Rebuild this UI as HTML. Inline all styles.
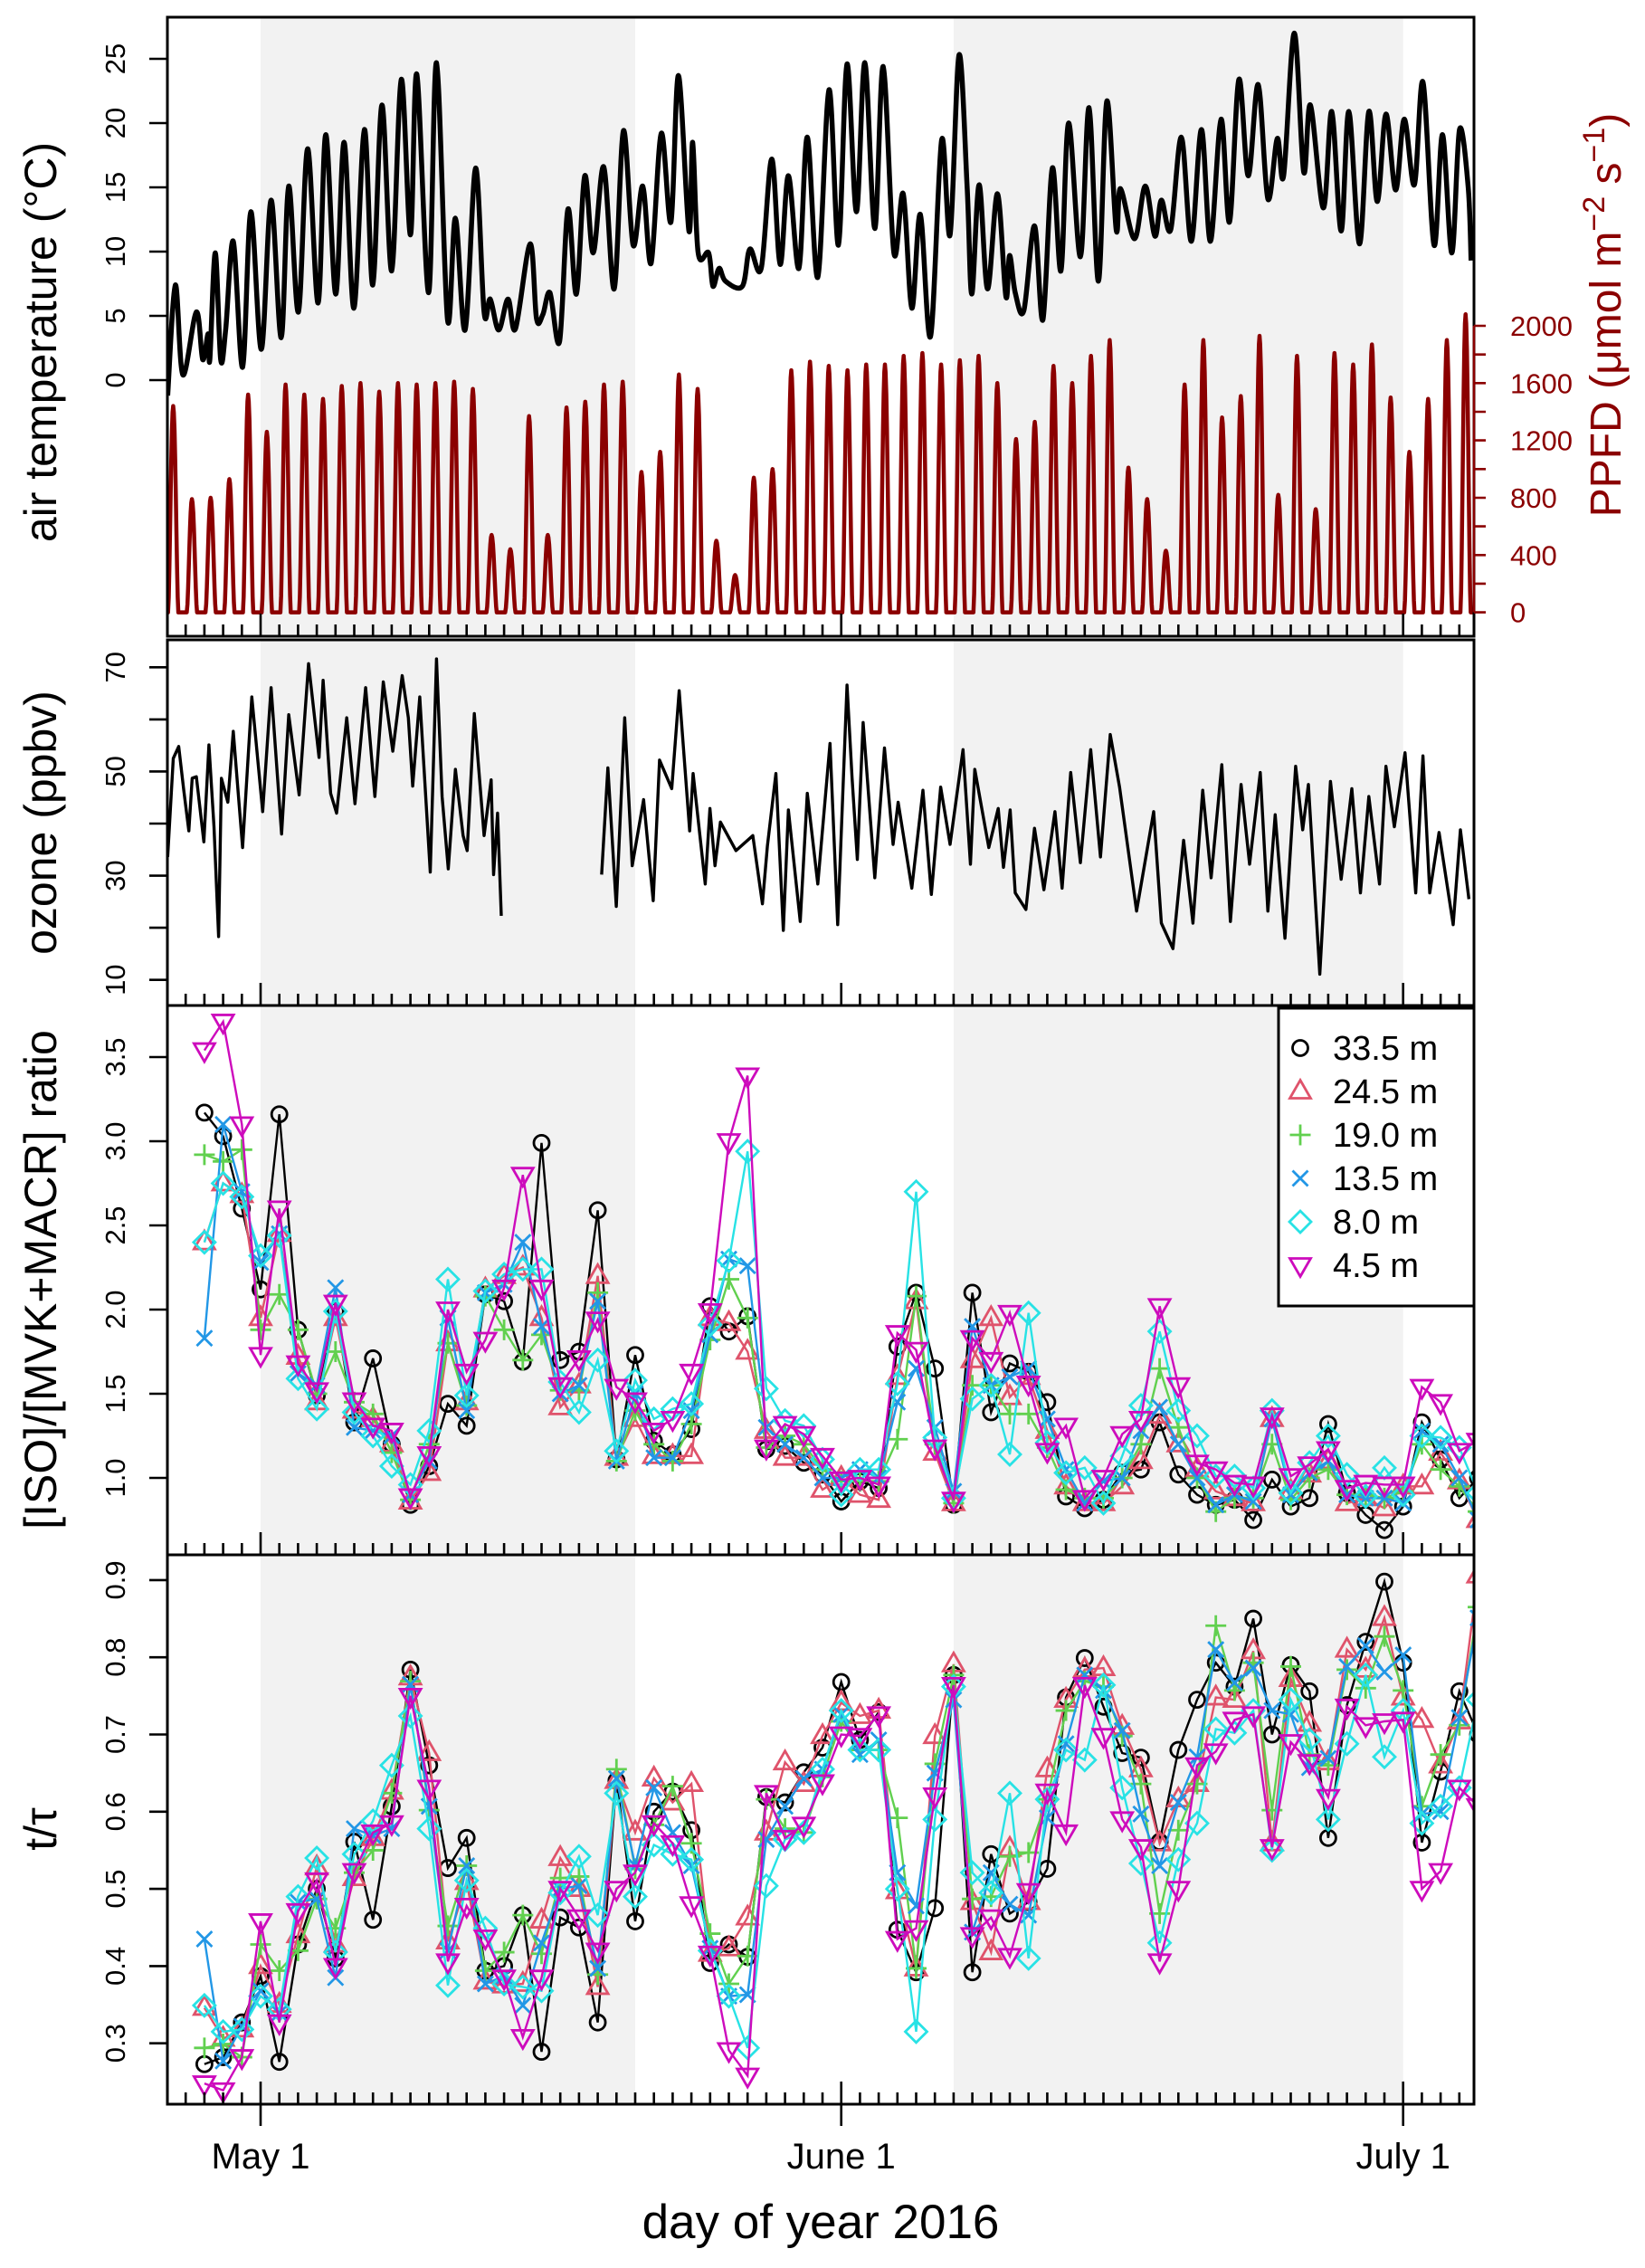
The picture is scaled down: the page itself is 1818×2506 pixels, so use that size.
<!DOCTYPE html>
<html><head><meta charset="utf-8"><title>Chart</title>
<style>html,body{margin:0;padding:0;background:#fff}svg{display:block}text{font-family:"Liberation Sans",Arial,sans-serif}</style>
</head><body>
<svg id="chart" xmlns="http://www.w3.org/2000/svg" width="1818" height="2506" viewBox="0 0 1818 2506"></svg>
<script>
// ---------- data ----------
const tempDay=[-4.96,-4.55,-4.15,-3.43,-3.09,-2.80,-2.71,-2.42,-2.13,-1.86,-1.46,-0.96,-0.52,0.04,0.56,1.10,1.50,2.02,2.51,3.07,3.48,4.01,4.46,4.98,5.54,5.99,6.48,7.00,7.51,8.00,8.34,8.97,9.39,9.98,10.40,10.92,11.48,11.93,12.26,12.71,13.21,13.61,14.39,14.73,15.07,15.45,15.96,16.41,16.86,17.31,17.76,18.32,18.88,19.37,19.89,20.40,20.85,21.39,21.91,22.31,22.87,23.07,23.36,23.92,24.15,24.48,24.82,25.72,26.12,26.73,27.29,27.74,28.18,28.74,29.19,29.75,30.35,30.85,31.31,31.81,32.26,32.79,33.24,33.81,34.31,34.77,35.22,35.77,36.36,36.81,37.29,37.72,37.97,38.36,38.81,39.34,39.79,39.99,40.29,40.75,41.32,41.77,42.27,42.73,43.14,43.77,44.23,44.73,45.18,45.68,45.91,46.66,47.23,47.75,48.09,48.59,49.16,49.69,50.23,50.71,51.28,51.73,52.23,52.73,53.26,53.78,54.28,54.62,55.19,55.69,56.05,56.74,57.19,57.69,58.10,58.67,59.17,59.62,60.08,60.60,61.06,61.60,62.06,62.65,63.10,63.60,64.01,64.47,64.63];
const tempVal=[-1.2,7.4,0.4,5.3,1.6,3.6,1.6,9.9,1.6,4.0,10.8,1.0,13.1,2.4,14.0,3.3,15.1,5.3,18.0,6.0,19.1,6.7,18.5,5.6,19.5,7.4,21.4,8.5,23.4,11.3,23.8,6.8,24.7,4.7,12.6,3.9,16.5,5.3,6.3,3.9,6.3,4.0,10.6,4.8,5.1,6.8,3.0,13.3,6.7,15.9,9.9,16.6,7.1,19.4,10.5,15.1,9.1,19.2,12.3,23.7,11.6,18.5,9.9,9.9,7.3,8.7,7.7,7.3,10.2,8.7,17.2,9.0,15.9,8.7,18.9,8.0,22.6,10.5,24.6,13.1,24.7,11.8,24.4,9.9,14.5,5.6,12.9,3.4,18.7,11.3,25.3,15.1,6.7,15.2,7.1,14.5,6.5,9.7,6.8,5.4,12.0,4.7,16.5,8.5,20.0,9.6,21.2,7.7,21.7,11.7,14.9,11.0,15.1,11.2,14.0,11.7,18.9,10.8,19.5,10.8,20.3,12.3,23.4,15.9,23.0,14.1,18.8,15.9,27.0,16.2,21.4,13.4,20.9,11.6,20.9,10.6,20.9,13.9,20.7,14.8,20.3,15.2,23.2,10.5,19.1,9.9,19.5,15.1,9.3];
const ppfdFirstDay=-5;
const ppfdPeak=[1440,790,800,930,1520,1260,1590,1520,1490,1580,1600,1540,1600,1590,1600,1610,1560,540,440,1370,540,1430,1470,1590,1610,980,1120,1660,1560,500,260,940,1000,1690,1750,1720,1690,1730,1730,1790,1810,1730,1760,1790,1600,1210,1330,1720,1600,1790,1900,1010,790,430,1590,1900,1360,1510,1930,820,1790,720,1810,1730,1870,1500,1120,1490,1900,2080];
const ozDayA=[-4.96,-4.66,-4.37,-4.10,-3.83,-3.65,-3.43,-3.03,-2.76,-2.49,-2.24,-2.09,-1.75,-1.46,-0.96,-0.47,0.11,0.56,1.12,1.50,2.06,2.56,3.12,3.34,3.74,4.06,4.60,5.04,5.61,6.10,6.55,7.06,7.56,7.89,8.12,8.50,9.06,9.39,9.69,10.02,10.40,10.81,11.03,11.41,11.93,12.31,12.44,12.65,12.85];
const ozValA=[33.6,52.5,54.8,46.4,38.6,48.7,49,36.5,55.1,39.4,18.3,48.7,44.1,57.7,35.4,64.3,42.3,66.1,38.0,60.9,45.5,70.7,52.7,67.5,45.8,42.0,60.3,43.8,66.1,45.2,67.2,53.9,68.4,60.3,47.2,64.3,30.7,71.6,45.2,31.3,50.4,37.7,34.8,61.1,37.7,48.4,30.2,42.0,22.3];
const ozDayB=[18.21,18.54,18.99,19.44,19.84,20.45,20.96,21.30,21.95,22.35,22.91,23.09,23.74,23.99,24.26,24.55,25.38,26.28,26.79,27.06,27.51,27.91,28.18,28.81,29.19,29.75,30.40,30.81,31.31,31.58,31.86,32.17,32.79,33.31,33.77,34.04,34.77,35.36,35.81,36.31,36.81,37.50,37.90,38.13,38.88,39.38,39.66,40.02,40.29,40.86,41.32,41.82,42.41,42.79,43.25,43.77,44.32,44.84,45.36,45.86,46.77,47.68,48.09,48.71,49.28,49.78,50.30,50.75,51.32,51.78,52.35,52.80,53.37,53.78,54.17,54.69,55.26,55.64,55.94,56.55,57.12,57.69,58.26,58.72,59.17,59.74,60.08,60.53,61.10,61.67,62.06,62.42,62.92,63.67,64.06,64.51];
const ozValB=[30.2,50.7,24.1,60.3,31.9,44.6,25.2,52.2,46.7,65.5,38.6,49.6,28.4,42.9,31.9,40.3,34.8,37.7,24.6,35.7,49.6,19.5,42.6,21.2,45.8,28.4,55.4,20.6,66.6,48.7,33.1,59.4,29.6,54.5,36.0,44.1,27.6,46.4,26.4,47.0,36.0,54.2,32.2,50.4,35.4,42.9,31.6,42.6,26.7,23.5,39.1,27.3,42.3,27.6,49.8,32.5,54.2,33.6,57.1,47.0,23.2,42.3,20.9,16.0,36.8,20.9,46.4,29.6,51.3,21.2,47.5,32.2,49.8,23.2,41.7,18.0,51.0,38.8,47.5,11.1,48.1,29.3,46.7,26.7,45.2,28.4,51.0,39.4,53.6,26.7,53.0,26.7,38.3,20.6,38.8,25.5];

const sampleFirstDay=-3;
const heights=["33.5 m","24.5 m","19.0 m","13.5 m","8.0 m","4.5 m"];
const ratio335=[3.17,3.03,2.60,2.12,3.16,1.88,1.49,1.99,1.33,1.71,1.20,0.84,1.07,1.44,1.31,2.09,2.05,1.69,2.99,1.70,1.75,2.59,1.11,1.73,1.22,1.14,1.29,2.02,1.87,1.96,1.17,1.19,1.09,1.02,0.86,0.98,0.94,1.78,2.10,1.65,0.84,2.10,1.39,1.68,1.63,1.45,0.89,0.82,0.87,1.03,1.05,1.33,1.02,0.90,0.84,0.87,0.75,0.99,0.83,0.88,1.32,0.91,0.78,0.69,0.83,1.33,1.11,0.88,1.0];
const ratio245=[2.40,2.75,2.68,1.95,2.45,1.72,1.45,1.95,1.40,1.35,1.20,0.86,1.03,1.80,1.45,2.12,2.20,2.25,1.95,1.42,1.55,2.20,1.12,1.35,1.13,1.13,1.13,1.95,1.92,1.75,1.28,1.12,1.12,0.93,1.0,0.9,0.87,1.6,2.05,1.15,0.85,1.7,1.95,1.48,1.6,1.28,0.95,0.85,0.85,0.95,1.1,1.37,1.2,1.05,0.92,0.88,0.85,1.35,0.92,1.02,1.1,0.85,0.88,0.82,0.95,0.95,1.15,0.98,0.75];
const ratio190=[2.92,2.88,2.95,1.88,2.09,1.88,1.50,1.75,1.45,1.38,1.15,0.87,1.2,1.8,1.43,2.08,1.88,1.7,1.85,1.52,1.52,2.1,1.10,1.4,1.2,1.1,1.32,1.82,2.18,1.95,1.18,1.25,1.2,1.05,0.98,0.98,0.98,1.23,2.08,1.2,0.85,1.55,1.55,1.38,1.38,1.18,0.93,0.88,0.88,1.0,1.2,1.65,1.3,1.0,0.80,0.88,0.88,1.2,0.87,1.0,1.05,0.9,0.9,0.88,0.92,1.2,1.05,0.95,0.8];
const ratio135=[1.83,3.1,2.7,2.28,2.45,1.62,1.55,2.13,1.30,1.28,1.25,0.9,1.1,1.95,1.4,2.1,2.15,2.4,1.9,1.5,1.55,2.05,1.1,1.5,1.12,1.12,1.4,1.85,2.3,2.26,1.3,1.2,1.12,1.0,1.0,1.05,1.0,1.45,1.65,1.3,0.92,1.9,1.55,1.6,1.65,1.35,1.05,0.85,0.98,1.0,1.28,1.42,1.2,1.0,0.84,0.90,0.86,1.35,0.9,1.03,1.1,0.9,0.88,0.88,0.85,1.28,1.2,1.0,0.75];
const ratio080=[2.40,2.75,2.67,2.32,2.44,1.59,1.41,1.99,1.39,1.25,1.07,0.96,1.28,2.18,1.49,2.11,2.21,2.24,2.24,1.57,1.39,1.70,1.16,1.58,1.35,1.41,1.44,1.91,2.29,2.94,1.53,1.34,1.31,1.11,0.90,1.05,1.05,1.56,2.70,1.24,0.88,1.47,1.55,1.14,1.98,1.21,1.03,1.06,0.85,1.13,1.43,1.87,1.40,1.25,1.01,1.01,0.94,1.40,0.91,1.09,1.25,1.02,0.89,1.06,0.90,1.25,1.24,1.18,0.91];
const ratio045=[3.54,3.71,3.10,1.73,2.60,1.68,1.52,2.04,1.46,1.31,1.28,0.89,1.14,2.0,1.63,1.82,2.13,2.80,2.13,1.55,1.71,1.94,1.54,1.46,1.28,1.35,1.63,1.99,3.0,3.39,1.18,1.32,1.26,1.13,0.99,1.0,0.96,1.86,1.76,1.18,0.87,1.83,1.70,1.98,1.56,1.16,1.31,0.88,1.0,1.26,1.35,2.02,1.55,1.09,1.05,0.97,0.96,1.37,1.01,1.08,1.17,0.94,0.97,0.96,0.96,1.54,1.45,1.16,1.22];
const tau335=[0.273,0.282,0.327,0.387,0.276,0.428,0.50,0.41,0.561,0.46,0.607,0.784,0.66,0.527,0.566,0.394,0.40,0.466,0.289,0.463,0.45,0.327,0.64,0.458,0.60,0.626,0.576,0.404,0.428,0.412,0.619,0.612,0.651,0.683,0.768,0.693,0.729,0.447,0.392,0.475,0.777,0.392,0.545,0.468,0.483,0.526,0.748,0.799,0.736,0.676,0.67,0.561,0.68,0.745,0.793,0.762,0.85,0.70,0.79,0.756,0.566,0.738,0.82,0.898,0.793,0.56,0.652,0.756,0.70];
const tau245=[.346,.306,.318,.40,.35,.44,.528,.428,.514,.566,.626,.774,.676,.432,.509,.38,.375,.377,.459,.54,.50,.373,.64,.573,.643,.612,.636,.416,.423,.463,.573,.664,.636,.698,.741,.724,.731,.497,.397,.698,.791,.483,.418,.552,.483,.655,.745,.784,.786,.71,.655,.559,.616,.636,.748,.745,.808,.559,.772,.714,.664,.81,.784,.851,.748,.719,.66,.717,.906];
const tau190=[.294,.299,.282,.428,.394,.42,.487,.449,.521,.55,.624,.769,.602,.452,.53,.394,.418,.466,.416,.514,.516,.389,.655,.526,.583,.633,.559,.442,.377,.413,.616,.578,.573,.645,.717,.68,.68,.592,.397,.662,.777,.487,.49,.542,.547,.616,.731,.769,.762,.698,.636,.468,.576,.636,.841,.757,.793,.602,.788,.674,.66,.784,.76,.827,.757,.607,.674,.712,.865];
const tau135=[.435,.277,.322,.368,.339,.483,.487,.385,.578,.569,.578,.765,.607,.42,.53,.377,.387,.349,.43,.50,.504,.397,.643,.53,.631,.573,.53,.423,.361,.363,.564,.607,.643,.655,.726,.674,.693,.521,.478,.65,.745,.444,.521,.48,.466,.592,.688,.777,.757,.705,.597,.53,.612,.671,.81,.767,.786,.731,.726,.657,.669,.788,.815,.781,.803,.597,.60,.722,.851];
const tau080=[.349,.315,.318,.361,.344,.49,.54,.418,.545,.588,.66,.724,.578,.375,.511,.449,.377,.373,.368,.495,.542,.466,.624,.49,.557,.545,.538,.42,.361,.294,.504,.564,.573,.655,.731,.68,.68,.50,.315,.59,.762,.521,.495,.624,.41,.616,.68,.667,.764,.631,.533,.43,.538,.585,.707,.702,.731,.55,.745,.693,.59,.688,.777,.671,.731,.585,.607,.631,.745];
const tau045=[.248,.239,.282,.458,.327,.471,.511,.40,.523,.573,.585,.75,.631,.406,.478,.437,.385,.308,.385,.50,.463,.42,.50,.521,.585,.559,.48,.416,.291,.258,.624,.566,.583,.638,.70,.698,.726,.435,.449,.621,.764,.44,.463,.413,.497,.626,.573,.764,.698,.59,.554,.406,.50,.66,.678,.719,.726,.554,.69,.664,.619,.736,.712,.717,.719,.50,.523,.631,.607];

const tempTicks=[0,5,10,15,20,25];
const ppfdTicks=[0,200,400,600,800,1000,1200,1400,1600,1800,2000];
const ppfdLabels=[0,400,800,1200,1600,2000];
const ozTicks=[10,20,30,40,50,60,70];
const ozLabels=[10,30,50,70];
const ratioTicks=[1.0,1.5,2.0,2.5,3.0,3.5];
const tauTicks=[0.3,0.4,0.5,0.6,0.7,0.8,0.9];
const monthDays=[0,31,61];
const monthLabels=["May 1","June 1","July 1"];
const shadeStart=[0,37];
const shadeEnd=[20,61];

// ---------- layout ----------
const NS="http://www.w3.org/2000/svg";
const svg=document.getElementById('chart');
const L=185,R=1629;
const P1={t:19,b:703},P2={t:707,b:1111},P3={t:1111,b:1718},P4={t:1718,b:2325};
const X=d=>288+d*20.7;
const yT=v=>420-v*14.2;
const yP=v=>676.6-v*0.1583;
const yO=v=>737.3+(70-v)*5.757;
const yR=v=>1633-(v-1)*186;
const yTau=v=>2257.7-(v-0.3)*853;
const colors=["#000000","#DF536B","#61D04F","#2297E6","#28E2E5","#CD0BBC"];
const markers=["circle","tri-up","plus","cross","diamond","tri-down"];

function el(tag,attrs,parent){const e=document.createElementNS(NS,tag);for(const k in attrs)e.setAttribute(k,attrs[k]);(parent||svg).appendChild(e);return e;}
function txt(s,attrs,parent){const e=el('text',attrs,parent);e.textContent=s;return e;}

const defs=el('defs',{});
[P1,P2,P3,P4].forEach((p,i)=>{const c=el('clipPath',{id:'clip'+i},defs);el('rect',{x:L,y:p.t,width:R-L,height:p.b-p.t},c);});

[P1,P2,P3,P4].forEach((p,i)=>{
  for(let k=0;k<shadeStart.length;k++){
    const r=el('rect',{x:X(shadeStart[k]),y:p.t,width:X(shadeEnd[k])-X(shadeStart[k]),height:p.b-p.t,fill:'#F2F2F2'});
    
    
  }
});

function smooth(pts){
  let d='M'+pts[0][0].toFixed(1)+','+pts[0][1].toFixed(1);
  for(let i=0;i<pts.length-1;i++){
    const p0=pts[i-1]||pts[i],p1=pts[i],p2=pts[i+1],p3=pts[i+2]||p2;
    const c1=[p1[0]+(p2[0]-p0[0])/6,p1[1]+(p2[1]-p0[1])/6];
    const c2=[p2[0]-(p3[0]-p1[0])/6,p2[1]-(p3[1]-p1[1])/6];
    d+='C'+c1[0].toFixed(1)+','+c1[1].toFixed(1)+' '+c2[0].toFixed(1)+','+c2[1].toFixed(1)+' '+p2[0].toFixed(1)+','+p2[1].toFixed(1);
  }
  return d;
}

// ---------- panel 1 ----------
const g1=el('g',{'clip-path':'url(#clip0)'});


const tpts=tempDay.map((d,i)=>[X(d),yT(tempVal[i])]);
const tLine=el('path',{d:smooth(tpts),fill:'none',stroke:'#000','stroke-width':5.5,'stroke-linejoin':'round'},g1);


let pd='';
for(let i=0;i<ppfdPeak.length;i++){
  const day=ppfdFirstDay+i;
  const pk=ppfdPeak[i];
  pd+=(i===0?'M':'L')+X(day).toFixed(1)+','+yP(0).toFixed(1);
  for(let s=0;s<=16;s++){
    const t=s/16;
    const v=pk*Math.pow(Math.sin(Math.PI*t),1.6);
    pd+='L'+X(day+0.06+t*0.55).toFixed(1)+','+yP(v).toFixed(1);
  }
}
pd+='L'+X(ppfdFirstDay+ppfdPeak.length).toFixed(1)+','+yP(0).toFixed(1);
const pLine=el('path',{d:pd,fill:'none',stroke:'#8B0000','stroke-width':4.5,'stroke-linejoin':'round'},g1);



// ---------- panel 2 ----------
const g2=el('g',{'clip-path':'url(#clip1)'});


[[ozDayA,ozValA],[ozDayB,ozValB]].forEach(([ds,vs])=>{
  const p=el('path',{d:ds.map((d,i)=>(i?'L':'M')+X(d).toFixed(1)+','+yO(vs[i]).toFixed(1)).join(''),fill:'none',stroke:'#000','stroke-width':3.4,'stroke-linejoin':'round'},g2);
  
  
});

// ---------- markers ----------
function marker(type,x,y,col,parent){
  const a={fill:'none',stroke:col,'stroke-width':2.8};
  let m;
  if(type==='circle'){m=el('circle',Object.assign({cx:x,cy:y,r:8.5},a),parent);}
  else if(type==='tri-up'){m=el('path',Object.assign({d:`M${x},${y-12.5}L${x+11.5},${y+7.5}L${x-11.5},${y+7.5}Z`},a),parent);}
  else if(type==='tri-down'){m=el('path',Object.assign({d:`M${x},${y+12.5}L${x+11.5},${y-7.5}L${x-11.5},${y-7.5}Z`},a),parent);}
  else if(type==='plus'){m=el('path',Object.assign({d:`M${x-11.5},${y}H${x+11.5}M${x},${y-11.5}V${y+11.5}`},a),parent);}
  else if(type==='cross'){m=el('path',Object.assign({d:`M${x-8.5},${y-8.5}L${x+8.5},${y+8.5}M${x-8.5},${y+8.5}L${x+8.5},${y-8.5}`},a),parent);}
  else {m=el('path',Object.assign({d:`M${x},${y-12}L${x+12},${y}L${x},${y+12}L${x-12},${y}Z`},a),parent);}
  return m;
}
function series(vals,yf,k,parent,name){
  const g=el('g',{},parent);
  
  
  const pts=vals.map((v,i)=>[X(sampleFirstDay+i),yf(v)]);
  el('path',{d:pts.map((p,i)=>(i?'L':'M')+p[0].toFixed(1)+','+p[1].toFixed(1)).join(''),fill:'none',stroke:colors[k],'stroke-width':2.4},g);
  pts.forEach(p=>{
    const m=marker(markers[k],p[0],p[1],colors[k],g);
    
    
  });
}
const g3=el('g',{'clip-path':'url(#clip2)'});


[ratio335,ratio245,ratio190,ratio135,ratio080,ratio045].forEach((s,k)=>series(s,yR,k,g3,'ratio-series-'+heights[k].replace(/[ .]/g,'')));
const g4=el('g',{'clip-path':'url(#clip3)'});


[tau335,tau245,tau190,tau135,tau080,tau045].forEach((s,k)=>series(s,yTau,k,g4,'t-tau-series-'+heights[k].replace(/[ .]/g,'')));

// ---------- frames & ticks ----------
[P1,P2,P3,P4].forEach((p,i)=>{
  const f=el('rect',{x:L,y:p.t,width:R-L,height:p.b-p.t,fill:'none',stroke:'#000','stroke-width':3});
  
  
  let d='';
  for(let day=-4;day<=64;day++){
    const major=monthDays.includes(day);
    d+='M'+X(day).toFixed(1)+','+p.b+'V'+(p.b-(major?25:13));
    if(major&&i===3)d+='M'+X(day).toFixed(1)+','+p.b+'V'+(p.b+24);
  }
  const t=el('path',{d:d,stroke:'#000','stroke-width':2.6,fill:'none'});
  
  
});
monthDays.forEach((day,i)=>{
  const t=txt(monthLabels[i],{x:X(day),y:2396,'font-size':40,'text-anchor':'middle'});
  
  
});

function yAxis(ticks,labels,yf,fmt,name){
  let d='';
  ticks.forEach(v=>{d+='M'+(L-20)+','+yf(v).toFixed(1)+'H'+L;});
  const p=el('path',{d:d,stroke:'#000','stroke-width':2.6});
  
  
  labels.forEach(v=>{
    const t=txt(fmt(v),{transform:`translate(138,${yf(v).toFixed(1)}) rotate(-90)`,'font-size':31,'text-anchor':'middle'});
    
    
  });
}
yAxis(tempTicks,tempTicks,yT,v=>String(v),'temperature-axis');
yAxis(ozTicks,ozLabels,yO,v=>String(v),'ozone-axis');
yAxis(ratioTicks,ratioTicks,yR,v=>v.toFixed(1),'ratio-axis');
yAxis(tauTicks,tauTicks,yTau,v=>v.toFixed(1),'t-tau-axis');

let rd='M'+R+','+yP(0)+'V'+yP(2000);
ppfdTicks.forEach(v=>{rd+='M'+R+','+yP(v).toFixed(1)+'H'+(R+13);});
const ra=el('path',{d:rd,stroke:'#8B0000','stroke-width':2.6,fill:'none'});


ppfdLabels.forEach(v=>{
  const t=txt(String(v),{x:1669,y:(yP(v)+11).toFixed(1),'font-size':31,fill:'#8B0000'});
  
  
});
</script>
<script>
(function(){
const NS="http://www.w3.org/2000/svg";
const svg=document.getElementById('chart');
function t(s,attrs,name){const e=document.createElementNS(NS,'text');for(const k in attrs)e.setAttribute(k,attrs[k]);e.innerHTML=s;svg.appendChild(e);return e;}
t('air temperature (°C)',{transform:'translate(62,378) rotate(-90)','font-size':50,'text-anchor':'middle'},'temperature-axis-title');
t('ozone (ppbv)',{transform:'translate(62,909) rotate(-90)','font-size':50,'text-anchor':'middle'},'ozone-axis-title');
t('[ISO]/[MVK+MACR] ratio',{transform:'translate(62,1414) rotate(-90)','font-size':50,'text-anchor':'middle'},'ratio-axis-title');
t('t/τ',{transform:'translate(62,2021) rotate(-90)','font-size':50,'text-anchor':'middle'},'t-tau-axis-title');
t('day of year 2016',{x:907,y:2473,'font-size':53,'text-anchor':'middle'},'x-axis-title');
t('PPFD (μmol m<tspan dy="-18" font-size="34">−2</tspan><tspan dy="18"> s</tspan><tspan dy="-18" font-size="34">−1</tspan><tspan dy="18">)</tspan>',{transform:'translate(1791,348) rotate(-90)','font-size':48,'text-anchor':'middle',fill:'#8B0000'},'ppfd-axis-title');
})();
</script>
<script>
(function(){
const NS="http://www.w3.org/2000/svg";
const svg=document.getElementById('chart');
const g=document.createElementNS(NS,'g');svg.appendChild(g);


const box=document.createElementNS(NS,'rect');
box.setAttribute('x',1413);box.setAttribute('y',1114);box.setAttribute('width',216);box.setAttribute('height',329);
box.setAttribute('fill','#fff');box.setAttribute('stroke','#000');box.setAttribute('stroke-width',3);
g.appendChild(box);


const cols=["#000000","#DF536B","#61D04F","#2297E6","#28E2E5","#CD0BBC"];
const types=["circle","tri-up","plus","cross","diamond","tri-down"];
const labs=["33.5 m","24.5 m","19.0 m","13.5 m","8.0 m","4.5 m"];
labs.forEach((lab,k)=>{
  const y=1158+k*48,x=1437;
  const e=document.createElementNS(NS,'g');g.appendChild(e);
  
  
  let m;
  const c=cols[k];
  if(types[k]==='circle'){m=document.createElementNS(NS,'circle');m.setAttribute('cx',x);m.setAttribute('cy',y);m.setAttribute('r',8.5);}
  else{m=document.createElementNS(NS,'path');
    const d={'tri-up':`M${x},${y-12.5}L${x+11.5},${y+7.5}L${x-11.5},${y+7.5}Z`,'tri-down':`M${x},${y+12.5}L${x+11.5},${y-7.5}L${x-11.5},${y-7.5}Z`,'plus':`M${x-11.5},${y}H${x+11.5}M${x},${y-11.5}V${y+11.5}`,'cross':`M${x-8.5},${y-8.5}L${x+8.5},${y+8.5}M${x-8.5},${y+8.5}L${x+8.5},${y-8.5}`,'diamond':`M${x},${y-12}L${x+12},${y}L${x},${y+12}L${x-12},${y}Z`}[types[k]];
    m.setAttribute('d',d);}
  m.setAttribute('fill','none');m.setAttribute('stroke',c);m.setAttribute('stroke-width',2.8);
  e.appendChild(m);
  const tx=document.createElementNS(NS,'text');
  tx.setAttribute('x',1473);tx.setAttribute('y',y+13);tx.setAttribute('font-size',38);
  tx.textContent=lab;e.appendChild(tx);
});
})();
</script>
</body></html>
